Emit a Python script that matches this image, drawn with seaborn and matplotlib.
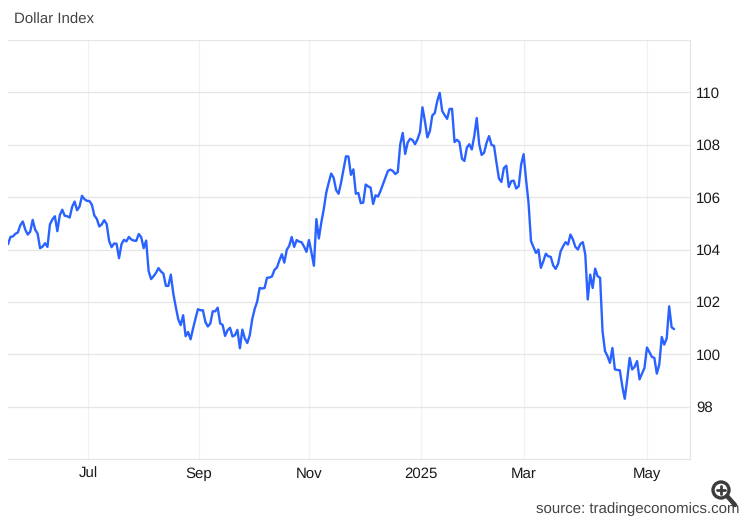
import matplotlib
matplotlib.use('Agg')
import matplotlib.pyplot as plt
from matplotlib.lines import Line2D
from matplotlib.patches import Circle
from matplotlib.transforms import IdentityTransform
import numpy as np
import pandas as pd
import seaborn as sns

values_2024_a = [
    104.20, 104.48, 104.50, 104.60, 104.65, 104.93, 105.07, 104.76, 104.57, 104.68,
    105.13, 104.76, 104.61, 104.05, 104.11, 104.24, 104.10, 104.96, 105.15, 105.27,
    104.70, 105.31, 105.52, 105.29, 105.27, 105.22, 105.63, 105.83, 105.50, 105.64,
    106.05, 105.92, 105.86, 105.85, 105.71, 105.30, 105.17, 104.88, 104.96, 105.12,
    104.97, 104.32, 104.09, 104.23, 104.22, 103.67, 104.20, 104.37, 104.31, 104.48,
    104.38, 104.34, 104.33, 104.59, 104.47, 104.05, 104.34, 103.18, 102.87, 102.98,
    103.11, 103.29, 103.16, 103.08, 102.61, 102.61, 103.04, 102.32, 101.81, 101.34,
    101.11, 101.49, 100.69, 100.85, 100.57, 100.98, 101.36, 101.72, 101.68, 101.68,
    101.24, 101.06, 101.17, 101.64, 101.64, 101.78, 101.18, 101.12, 100.70, 100.92,
    101.01, 100.68, 100.73, 100.93, 100.23, 100.94, 100.60, 100.43,
]
values_2024_b = [
    100.73, 101.34, 101.73, 102.01, 102.53, 102.51, 102.53, 102.92, 102.93, 102.97,
    103.22, 103.31, 103.58, 103.82, 103.50, 103.99, 104.14, 104.48, 104.10, 104.36,
    104.30, 104.28, 104.11, 103.91, 104.36, 103.89, 103.38, 105.16, 104.42, 105.03,
    105.54, 106.17, 106.55, 106.90, 106.74, 106.27, 106.13, 106.55, 107.06, 107.56,
    107.55, 106.85, 107.06, 106.13, 106.16, 105.77, 105.79, 106.48, 106.41, 106.36,
    105.74, 106.07, 106.02, 106.24, 106.49, 106.74, 107.00, 107.05, 107.00, 106.88,
    106.96, 108.02, 108.45, 107.65, 108.08, 108.23, 108.18, 108.02, 108.21, 108.49,
    109.43, 108.90, 108.28, 108.52, 109.12, 109.21, 109.67, 109.98, 109.29, 109.13,
    108.99, 109.37, 109.37, 108.10, 108.19, 108.10, 107.47, 107.38, 107.89, 108.02,
    107.82, 108.33, 109.02, 108.02, 107.61, 107.70, 108.08, 108.33, 107.99, 107.96,
    107.32, 106.71,
]
values_2025 = [
    106.58, 107.11, 107.20, 106.39, 106.61, 106.63, 106.33, 106.41, 107.24, 107.64,
    106.67, 105.78, 104.32, 104.10, 103.87, 104.00, 103.30, 103.55, 103.84, 103.74,
    103.72, 103.39, 103.26, 103.46, 103.93, 104.12, 104.28, 104.19, 104.57, 104.38,
    104.10, 104.00, 104.21, 104.28, 103.81, 102.09, 103.04, 102.53, 103.27, 102.98,
    102.92, 100.88, 100.12, 99.93, 99.67, 100.24, 99.42, 99.40, 99.39, 98.78,
    98.30, 99.04, 99.86, 99.42, 99.52, 99.74, 99.04, 99.26, 99.48, 100.26,
    100.08, 99.90, 99.86, 99.26, 99.61, 100.66, 100.37, 100.60, 101.83, 101.03,
    100.96,
]
month_positions = [32.4, 77.4, 122, 167.4, 209, 259]
month_labels = ['Jul', 'Sep', 'Nov', '2025', 'Mar', 'May']
y_ticks = [98, 100, 102, 104, 106, 108, 110]

values = values_2024_a + values_2024_b + values_2025
df = pd.DataFrame({'session': np.arange(len(values)), 'index': values})

sns.set_style('white')
plt.rcParams['font.family'] = ['Liberation Sans', 'DejaVu Sans']
plt.rcParams['text.hinting'] = 'no_hinting'
plt.rcParams['text.hinting_factor'] = 1

grid_h = '#e6e6e6'
grid_v = '#eef1f5'
W, H = 750, 520
left, right, top, bottom = 8, 690, 40, 459

fig = plt.figure(figsize=(7.5, 5.2), dpi=100)
ax = fig.add_axes([left / W, 1 - bottom / H, (right - left) / W, (bottom - top) / H])

sns.lineplot(data=df, x='session', y='index', ax=ax, color='#2962ff', linewidth=1.7, zorder=3)

ax.set_xlim(0, (right - left) / 2.467)
ax.set_ylim(96, 112)
ax.set_xlabel('')
ax.set_ylabel('')
ax.set_xticks(month_positions, month_labels)
ax.set_yticks(y_ticks + [112], [str(t) for t in y_ticks] + [''])
ax.yaxis.tick_right()
ax.tick_params(axis='x', length=0, pad=6, labelsize=10.5, labelcolor='#1a1a1a')
ax.tick_params(axis='y', length=2.5, width=0.9, color=grid_h, pad=2, labelsize=11, labelcolor='#1a1a1a')
ax.grid(True, axis='y', color=grid_h, linewidth=0.9)
ax.grid(True, axis='x', color=grid_v, linewidth=0.9)
ax.set_axisbelow(True)
sns.despine(ax=ax, left=True, top=True, right=False)
for side in ['right', 'bottom']:
    ax.spines[side].set_color(grid_h)
    ax.spines[side].set_linewidth(0.9)

fig.text(14 / W, 1 - 20 / H, 'Dollar Index', fontsize=10.7, color='#444444', va='center', ha='left')
fig.text(536 / W, 1 - 509 / H, 'source: tradingeconomics.com', fontsize=10.8, color='#444444',
         va='center', ha='left')

# magnifier icon, pixel coordinates
icon = '#3c3c3c'
fig.add_artist(Circle((721, H - 490), 8, transform=IdentityTransform(), facecolor='white',
                      edgecolor=icon, linewidth=2.4, zorder=5))
fig.add_artist(Line2D([727, 735], [H - 496, H - 505], transform=IdentityTransform(), color=icon,
                      linewidth=3.2, solid_capstyle='round', zorder=5))
fig.add_artist(Line2D([717, 725], [H - 490, H - 490], transform=IdentityTransform(), color=icon,
                      linewidth=2, zorder=5))
fig.add_artist(Line2D([721, 721], [H - 486, H - 494], transform=IdentityTransform(), color=icon,
                      linewidth=2, zorder=5))

fig.savefig('out.png', dpi=100)
